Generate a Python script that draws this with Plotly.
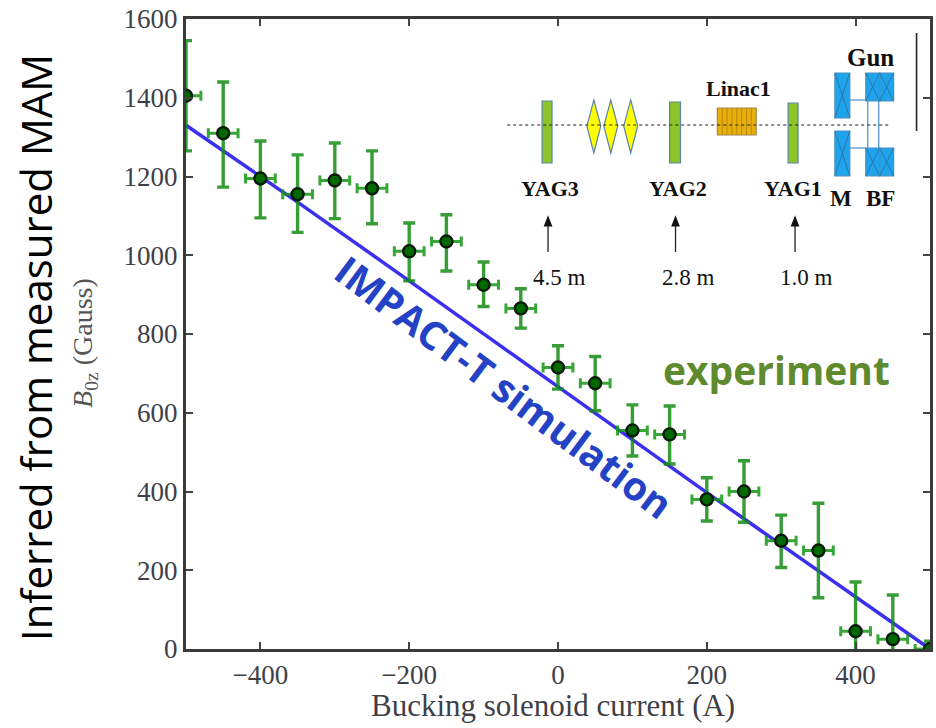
import plotly.graph_objects as go

# ---- data ----
current = [-500, -450, -400, -350, -300, -250, -200, -150, -100, -50, 0,
           50, 100, 150, 200, 250, 300, 350, 400, 450, 500]
b0z = [1405, 1310, 1195, 1155, 1190, 1170, 1010, 1035, 925, 865, 715,
       675, 555, 545, 380, 400, 275, 250, 45, 25, 0]
err_up = [140, 130, 95, 100, 95, 95, 72, 68, 58, 50, 55,
          68, 65, 72, 55, 78, 65, 120, 125, 112, 20]
err_down = [140, 137, 100, 97, 97, 90, 75, 75, 55, 50, 55,
            70, 65, 75, 55, 78, 68, 120, 125, 60, 20]
err_current = [20] * len(current)
sim_current = [-500, -350, -200, 200, 500]
sim_b0z = [1330, 1135, 935, 397, 0]
x_ticks = [-400, -200, 0, 200, 400]
y_ticks = [0, 200, 400, 600, 800, 1000, 1200, 1400, 1600]

W, H = 936, 728
L, R, T, B = 186, 933, 19, 649
DX = 2.5


def px(x):
    return (x + DX - L) / (R - L)


def py(y):
    return (B - y) / (B - T)


SERIF = "Liberation Serif"
SANS = "Open Sans"
shapes = []
ann = []


def rect(x0, y0, x1, y1, fill, line="#5b86a8", w=1.2):
    shapes.append(dict(type="rect", xref="paper", yref="paper", x0=px(x0), x1=px(x1),
                       y0=py(y0), y1=py(y1), fillcolor=fill, line=dict(color=line, width=w)))


def seg(x0, y0, x1, y1, color="#333333", w=1.0, dash="solid"):
    shapes.append(dict(type="line", xref="paper", yref="paper", x0=px(x0), x1=px(x1),
                       y0=py(y0), y1=py(y1), line=dict(color=color, width=w, dash=dash)))


def label(x, y, t, size, bold=False, family=SERIF, color="#111111", angle=0):
    ann.append(dict(xref="paper", yref="paper", x=px(x), y=py(y),
                    text=f"<b>{t}</b>" if bold else t, showarrow=False, textangle=angle,
                    xanchor="center", yanchor="middle",
                    font=dict(family=family, size=size, color=color)))


def poly(points, fill, line):
    path = "M " + " L ".join(f"{px(a)} {py(b)}" for a, b in points) + " Z"
    shapes.append(dict(type="path", xref="paper", yref="paper", path=path,
                       fillcolor=fill, line=dict(color=line, width=1.2)))


def diamond(cx):
    poly([(cx, 100), (cx + 7, 126), (cx, 153), (cx - 7, 126)], "#ffff00", "#5b86a8")


def coil(x0, y0, x1, y1):
    rect(x0, y0, x1, y1, "#1fa3ea", "#4a8fc0")
    seg(x0, y0, x1, y1, "#2b6f9e", 0.8)
    seg(x0, y1, x1, y0, "#2b6f9e", 0.8)


def arrow(x):
    seg(x, 226, x, 252, "#222222", 1.3)
    poly([(x, 217), (x + 3.5, 226), (x - 3.5, 226)], "#111111", "#111111")


# beamline inset
seg(917, 33, 917, 131, "#222222", 1.6)
for x0, x1, y0 in [(541, 551, 101), (669, 680, 102), (788, 798, 103)]:
    rect(x0, y0, x1, 163, "#8cc42a")
for cx in (593, 610, 630):
    diamond(cx)
rect(717, 108, 756, 135, "#e8ae0c", "#a08a50")
for i in range(1, 8):
    seg(717 + i * 39 / 8, 108, 717 + i * 39 / 8, 135, "#b98a10", 1)
seg(850, 100, 866, 100, "#5b96c8", 1.3)
seg(850, 148, 866, 148, "#5b96c8", 1.3)
seg(868, 100, 868, 148, "#5b96c8", 1.3)
seg(879, 100, 879, 148, "#5b96c8", 1.3)
coil(835, 73, 850, 118)
coil(835, 131, 850, 176)
coil(866, 73, 880, 101)
coil(880, 73, 894, 101)
coil(866, 148, 880, 176)
coil(880, 148, 894, 176)
seg(506, 125, 890, 125, "#222222", 1.1, "dot")

label(871, 57, "Gun", 25, True)
label(738, 88, "Linac1", 22, True)
label(549, 188, "YAG3", 22, True)
label(677, 188, "YAG2", 22, True)
label(793, 188, "YAG1", 22, True)
label(841, 198, "M", 23, True)
label(881, 198, "BF", 23, True)
label(559, 277, "4.5 m", 23)
label(688, 277, "2.8 m", 23)
label(807, 277, "1.0 m", 23)
for ax in (547, 675, 795):
    arrow(ax)

# overlaid labels
label(776, 369, "experiment", 39, True, SANS, "#5f8a2e")
label(503, 387, "IMPACT-T simulation", 39.5, True, SANS, "#2342c4", 36.7)
label(33, 348, "Inferred from measured MAM", 42, False, SANS, "#000000", -90)
label(82, 343, "<i>B</i><sub>0z</sub> (Gauss)", 28, False, SERIF, "#555555", -90)
label(552, 706, "Bucking solenoid current (A)", 31, False, SERIF, "#3f3f48")

fig = go.Figure()
fig.add_trace(go.Scatter(x=sim_current, y=sim_b0z, mode="lines", name="IMPACT-T simulation",
                         line=dict(color="#3a30ee", width=3.5), showlegend=False))
fig.add_trace(go.Scatter(
    x=current, y=b0z, mode="markers", name="experiment", showlegend=False,
    marker=dict(size=12, color="#006a00", line=dict(color="#0a1a0a", width=2.4)),
    error_y=dict(type="data", symmetric=False, array=err_up, arrayminus=err_down,
                 color="rgba(20,140,20,0.85)", thickness=3.4, width=6),
    error_x=dict(type="data", array=err_current, color="rgba(20,150,20,0.85)",
                 thickness=3, width=5)))

axis_common = dict(showgrid=False, zeroline=False, showline=True, mirror="allticks",
                   linecolor="#3a3a3a", linewidth=3, ticks="inside", ticklen=7,
                   tickwidth=2, tickcolor="#444444",
                   tickfont=dict(family=SERIF, size=27, color="#3f3f48"))
fig.update_layout(
    width=W, height=H, margin=dict(l=L, r=W - R, t=T, b=H - B, pad=0),
    paper_bgcolor="white", plot_bgcolor="white", showlegend=False,
    shapes=shapes, annotations=ann,
    xaxis=dict(range=[-500, 500], tickvals=x_ticks, **axis_common),
    yaxis=dict(range=[0, 1600], tickvals=y_ticks, **axis_common))
fig.write_html("out.html", config=dict(displayModeBar=False),
               post_script="document.body.style.margin='0';")
